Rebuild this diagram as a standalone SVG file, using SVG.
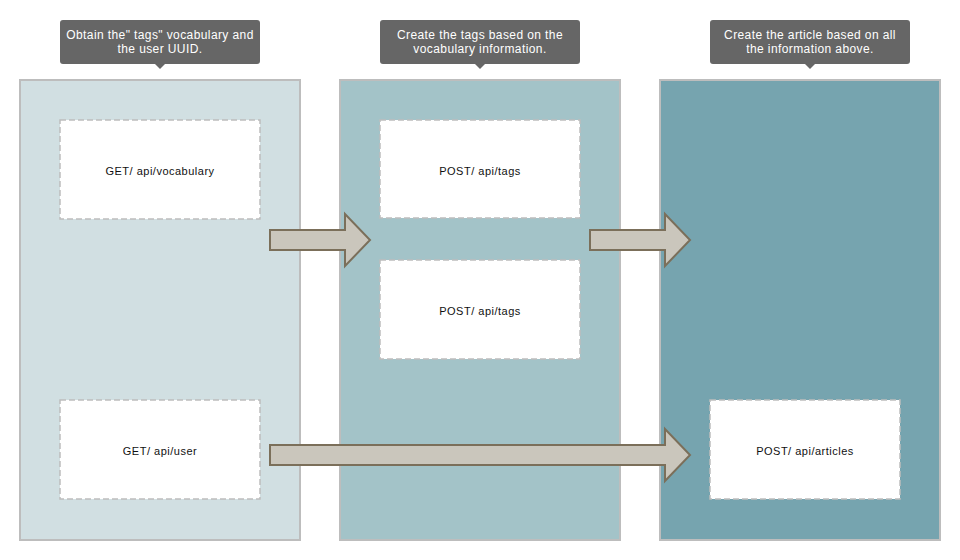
<svg xmlns="http://www.w3.org/2000/svg" width="960" height="560" viewBox="0 0 960 560">
<style>
.col{stroke:#bdbdbd;stroke-width:2}
.node{fill:#fff;stroke:#bdbdbd;stroke-width:1.5;stroke-dasharray:6 3}
.lbl{font-family:"Liberation Sans",Arial,sans-serif;font-size:11px;letter-spacing:0.5px;fill:#111;text-anchor:middle}
.tip{fill:#666}
.tipt{font-family:"Liberation Sans",Arial,sans-serif;font-size:12px;letter-spacing:0.4px;fill:#fff;text-anchor:middle}
.arrow{fill:#cac6bc;stroke:#7b6f5a;stroke-width:2;stroke-linejoin:miter}
</style>
<rect width="960" height="560" fill="#fff"/>
<g id="columns">
<rect class="col" x="20" y="80" width="280" height="460" fill="#d1dfe2"/>
<rect class="col" x="340" y="80" width="280" height="460" fill="#a3c3c8"/>
<rect class="col" x="660" y="80" width="280" height="460" fill="#76a4af"/>
</g>
<g id="tooltips">
<g id="tip1">
<rect class="tip" x="60" y="20" width="200" height="44" rx="3"/>
<path class="tip" d="M155 64 L160 69 L165 64 Z"/>
<text class="tipt" x="160" y="39">Obtain the" tags" vocabulary and</text>
<text class="tipt" x="160" y="53">the user UUID.</text>
</g>
<g id="tip2">
<rect class="tip" x="380" y="20" width="200" height="44" rx="3"/>
<path class="tip" d="M475 64 L480 69 L485 64 Z"/>
<text class="tipt" x="480" y="39">Create the tags based on the</text>
<text class="tipt" x="480" y="53">vocabulary information.</text>
</g>
<g id="tip3">
<rect class="tip" x="710" y="20" width="200" height="44" rx="3"/>
<path class="tip" d="M805 64 L810 69 L815 64 Z"/>
<text class="tipt" x="810" y="39">Create the article based on all</text>
<text class="tipt" x="810" y="53">the information above.</text>
</g>
</g>
<g id="n1">
<rect class="node" x="60" y="120" width="200" height="99"/>
<text class="lbl" x="160" y="175">GET/ api/vocabulary</text>
</g>
<g id="n2">
<rect class="node" x="380" y="120" width="200" height="98"/>
<text class="lbl" x="480" y="175">POST/ api/tags</text>
</g>
<g id="n3">
<rect class="node" x="380" y="260" width="200" height="99"/>
<text class="lbl" x="480" y="315">POST/ api/tags</text>
</g>
<g id="n4">
<rect class="node" x="60" y="400" width="200" height="99"/>
<text class="lbl" x="160" y="455">GET/ api/user</text>
</g>
<g id="n5">
<rect class="node" x="710" y="400" width="190" height="99"/>
<text class="lbl" x="805" y="455">POST/ api/articles</text>
</g>
<g id="connectors">
<path class="arrow" d="M270 230 L345 230 L345 214 L370 240 L345 266 L345 250 L270 250 Z"/>
<path class="arrow" d="M590 230 L665 230 L665 214 L690 240 L665 266 L665 250 L590 250 Z"/>
<path class="arrow" d="M270 445 L665 445 L665 429 L690 455 L665 481 L665 465 L270 465 Z"/>
</g>
</svg>
